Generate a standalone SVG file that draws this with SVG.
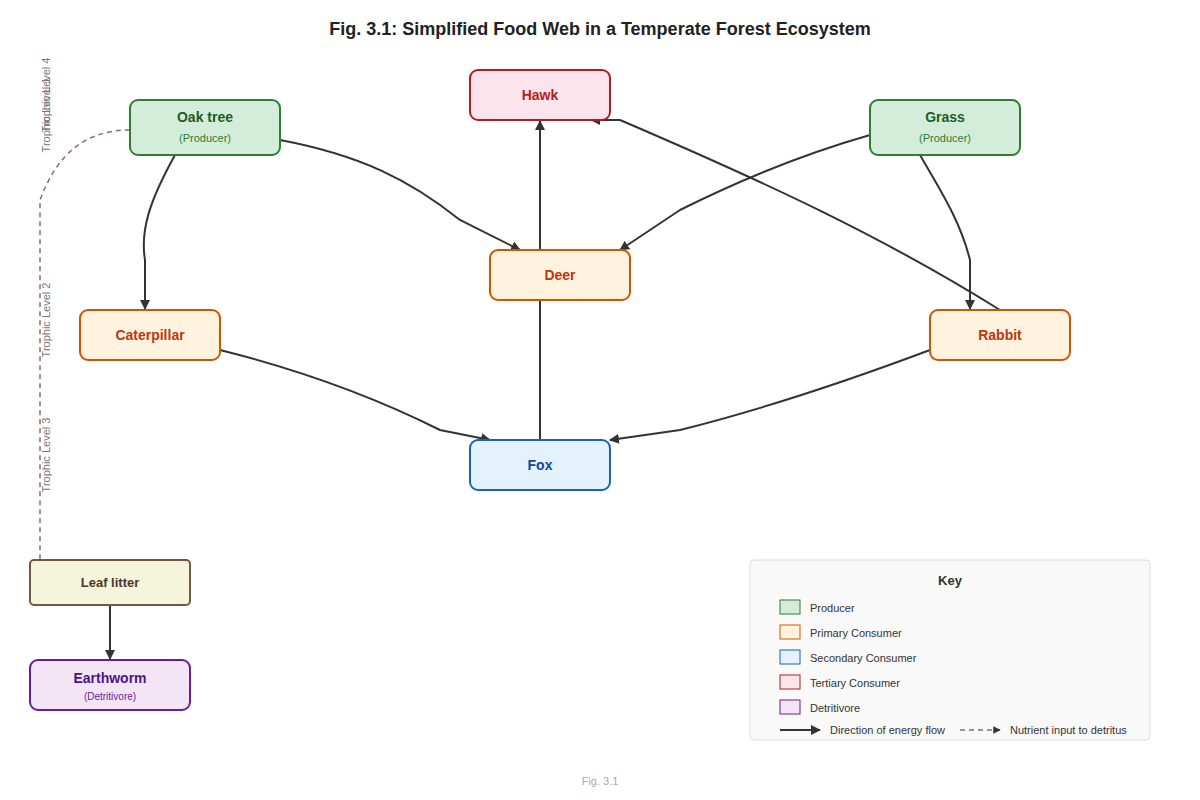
<svg xmlns="http://www.w3.org/2000/svg" width="1200" height="800" viewBox="0 0 1200 800">
<style>
text{font-family:"Liberation Sans",Arial,sans-serif}
.t{font-size:14px;font-weight:bold;text-anchor:middle}
.s{font-size:11px;text-anchor:middle}
.e{fill:none;stroke:#333;stroke-width:2}
.tl{font-size:11px;fill:#777;text-anchor:middle}
.k{font-size:11px;fill:#333}
</style>
<defs>
<marker id="a" viewBox="0 0 10 10" refX="9" refY="5" markerWidth="5" markerHeight="5" orient="auto"><path d="M0,0L10,5L0,10z" fill="#333"/></marker>
<marker id="b" viewBox="0 0 10 10" refX="9" refY="5" markerWidth="5" markerHeight="5" orient="auto"><path d="M0,0L10,5L0,10z" fill="#333"/></marker>
</defs>
<rect width="1200" height="800" fill="#fff"/>
<text x="600" y="35" style="font-size:18px;font-weight:bold;text-anchor:middle;fill:#222">Fig. 3.1: Simplified Food Web in a Temperate Forest Ecosystem</text>
<text class="tl" transform="translate(50,95) rotate(-90)">Trophic Level 4</text>
<text class="tl" transform="translate(50,115) rotate(-90)">Trophic Level 1</text>
<text class="tl" transform="translate(50,320) rotate(-90)">Trophic Level 2</text>
<text class="tl" transform="translate(50,455) rotate(-90)">Trophic Level 3</text>
<g id="connectors">
<path class="e" marker-end="url(#a)" d="M175,155 C150,200 140,230 145,260 L145,309"/>
<path class="e" marker-end="url(#a)" d="M280,140 C360,155 410,180 460,220 L520,250"/>
<path class="e" marker-end="url(#a)" d="M870,135 C800,155 740,180 680,210 L620,250"/>
<path class="e" marker-end="url(#a)" d="M920,155 C940,190 960,220 970,260 L970,309"/>
<path class="e" marker-end="url(#a)" d="M220,350 C300,370 370,395 440,430 L490,440"/>
<path class="e" marker-end="url(#a)" d="M930,350 C850,380 760,410 680,430 L610,440"/>
<path class="e" marker-end="url(#a)" d="M540,440 L540,121"/>
<path class="e" marker-end="url(#a)" d="M1000,310 C880,235 760,180 620,120 L591,120"/>
<path fill="none" stroke="#8d6e63" stroke-width="1.5" stroke-dasharray="5,4" marker-end="url(#b)" d="M130,130 C80,130 55,160 40,200 L40,565 L31,575"/>
<path class="e" marker-end="url(#a)" d="M110,605 L110,659"/>
</g>
<g id="hawk"><rect x="470" y="70" width="140" height="50" rx="8" fill="#fce4ec" stroke="#b71c1c" stroke-width="2"/><text class="t" x="540" y="100" fill="#b71c1c">Hawk</text></g>
<g id="oak"><rect x="130" y="100" width="150" height="55" rx="8" fill="#d4edda" stroke="#2e7d32" stroke-width="2"/><text class="t" x="205" y="122" fill="#1b5e20">Oak tree</text><text class="s" x="205" y="142" fill="#2e7d32">(Producer)</text></g>
<g id="grass"><rect x="870" y="100" width="150" height="55" rx="8" fill="#d4edda" stroke="#2e7d32" stroke-width="2"/><text class="t" x="945" y="122" fill="#1b5e20">Grass</text><text class="s" x="945" y="142" fill="#2e7d32">(Producer)</text></g>
<g id="deer"><rect x="490" y="250" width="140" height="50" rx="8" fill="#fff3e0" stroke="#d35400" stroke-width="2"/><text class="t" x="560" y="280" fill="#bf360c">Deer</text></g>
<g id="caterpillar"><rect x="80" y="310" width="140" height="50" rx="8" fill="#fff3e0" stroke="#d35400" stroke-width="2"/><text class="t" x="150" y="340" fill="#bf360c">Caterpillar</text></g>
<g id="rabbit"><rect x="930" y="310" width="140" height="50" rx="8" fill="#fff3e0" stroke="#d35400" stroke-width="2"/><text class="t" x="1000" y="340" fill="#bf360c">Rabbit</text></g>
<g id="fox"><rect x="470" y="440" width="140" height="50" rx="8" fill="#e3f2fd" stroke="#1565c0" stroke-width="2"/><text class="t" x="540" y="470" fill="#0d47a1">Fox</text></g>
<g id="leaf"><rect x="30" y="560" width="160" height="45" rx="4" fill="#f5f5dc" stroke="#795548" stroke-width="2"/><text x="110" y="587" style="font-size:13px;font-weight:bold;text-anchor:middle" fill="#4e342e">Leaf litter</text></g>
<g id="earthworm"><rect x="30" y="660" width="160" height="50" rx="8" fill="#f3e5f5" stroke="#6a1b9a" stroke-width="2"/><text class="t" x="110" y="683" fill="#4a148c">Earthworm</text><text x="110" y="700" style="font-size:10px;text-anchor:middle" fill="#6a1b9a">(Detritivore)</text></g>
<g id="key">
<rect x="750" y="560" width="400" height="180" rx="4" fill="#f9f9f9" stroke="#ddd"/>
<text x="950" y="585" style="font-size:13px;font-weight:bold;text-anchor:middle" fill="#333">Key</text>
<rect x="780" y="600" width="20" height="14" fill="#d4edda" stroke="#2e7d32"/><text class="k" x="810" y="612">Producer</text>
<rect x="780" y="625" width="20" height="14" fill="#fff3e0" stroke="#d35400"/><text class="k" x="810" y="637">Primary Consumer</text>
<rect x="780" y="650" width="20" height="14" fill="#e3f2fd" stroke="#1565c0"/><text class="k" x="810" y="662">Secondary Consumer</text>
<rect x="780" y="675" width="20" height="14" fill="#fce4ec" stroke="#b71c1c"/><text class="k" x="810" y="687">Tertiary Consumer</text>
<rect x="780" y="700" width="20" height="14" fill="#f3e5f5" stroke="#6a1b9a"/><text class="k" x="810" y="712">Detritivore</text>
<path class="e" marker-end="url(#a)" d="M780,730 L820,730"/><text class="k" x="830" y="734">Direction of energy flow</text>
<path fill="none" stroke="#8d6e63" stroke-width="1.5" stroke-dasharray="5,4" marker-end="url(#b)" d="M960,730 L1000,730"/><text class="k" x="1010" y="734">Nutrient input to detritus</text>
</g>
<text x="600" y="785" style="font-size:11px;text-anchor:middle" fill="#aaa">Fig. 3.1</text>
</svg>
